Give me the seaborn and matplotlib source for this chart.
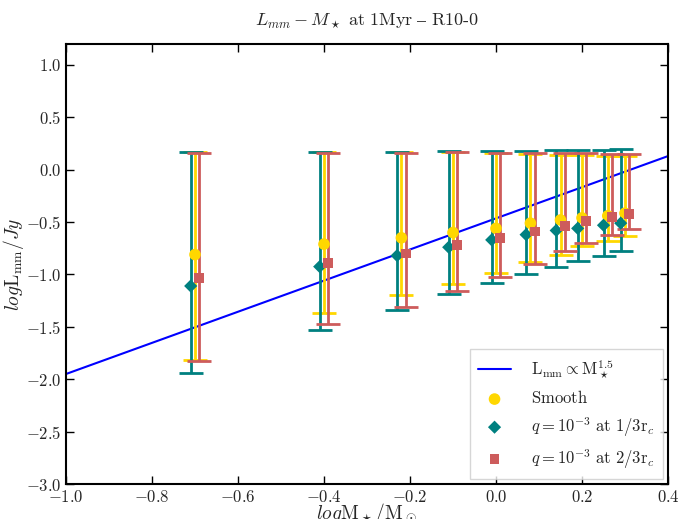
import numpy as np
import pandas as pd
import matplotlib
matplotlib.use("Agg")
import matplotlib.pyplot as plt
import seaborn as sns

# ---- data ----
log_mass = [-0.70, -0.40, -0.22, -0.10, 0.00, 0.08, 0.15, 0.20, 0.26, 0.30]
x_offset = 0.01

smooth_y    = [-0.81, -0.71, -0.65, -0.60, -0.56, -0.51, -0.48, -0.46, -0.44, -0.415]
smooth_top  = [0.165, 0.17, 0.17, 0.17, 0.16, 0.15, 0.14, 0.14, 0.13, 0.13]
smooth_bot  = [-1.82, -1.37, -1.20, -1.09, -0.99, -0.88, -0.81, -0.73, -0.68, -0.635]

q13_y   = [-1.11, -0.925, -0.82, -0.74, -0.67, -0.62, -0.58, -0.56, -0.53, -0.51]
q13_top = [0.17, 0.17, 0.17, 0.18, 0.18, 0.18, 0.19, 0.19, 0.19, 0.20]
q13_bot = [-1.94, -1.53, -1.34, -1.19, -1.08, -1.00, -0.93, -0.87, -0.82, -0.775]

q23_y   = [-1.03, -0.89, -0.80, -0.715, -0.65, -0.59, -0.54, -0.49, -0.45, -0.42]
q23_top = [0.156, 0.16, 0.16, 0.17, 0.16, 0.16, 0.16, 0.16, 0.15, 0.15]
q23_bot = [-1.83, -1.47, -1.31, -1.16, -1.02, -0.90, -0.78, -0.70, -0.625, -0.565]

line_x = [-1.0, 0.4]
line_y = [-1.95, 0.13]

xticks = [-1.0, -0.8, -0.6, -0.4, -0.2, 0.0, 0.2, 0.4]
yticks = [-3.0, -2.5, -2.0, -1.5, -1.0, -0.5, 0.0, 0.5, 1.0]

# ---- style ----
sns.set_style("ticks")
plt.rcParams.update({
    "font.family": ["cmr10", "DejaVu Serif"],
    "mathtext.fontset": "cm",
    "axes.formatter.use_mathtext": True,
    "axes.unicode_minus": True,
    "xtick.direction": "in",
    "ytick.direction": "in",
    "xtick.top": True,
    "ytick.right": True,
})

fig = plt.figure(figsize=(6.92, 5.19), dpi=100)
ax = fig.add_axes([66/692, 1-484/519, (668-66)/692, (484-44)/519])

c_smooth = "#FFD700"
c_q13 = "#008080"
c_q23 = "#CD5C5C"

lm = np.array(log_mass)

def draw(xs, ys, top, bot, color, marker, label, ms):
    ys = np.array(ys); top = np.array(top); bot = np.array(bot)
    ax.errorbar(xs, ys, yerr=[ys - bot, top - ys], fmt="none", ecolor=color,
                elinewidth=2, capsize=8.5, capthick=2, zorder=2)
    df = pd.DataFrame({"x": xs, "y": ys})
    sns.scatterplot(data=df, x="x", y="y", ax=ax, color=color, marker=marker,
                    s=ms, edgecolor="none", label=label, zorder=3)

sns.lineplot(x=line_x, y=line_y, ax=ax, color="blue", linewidth=1.5,
             label=r"$\mathrm{L_{mm}} \propto \mathrm{M}_\star^{1.5}$", zorder=1)
draw(lm, smooth_y, smooth_top, smooth_bot, c_smooth, "o", r"$\mathrm{Smooth}$", 70)
draw(lm - x_offset, q13_y, q13_top, q13_bot, c_q13, "D",
     r"$q=10^{-3}\ \mathrm{at}\ 1/3\mathrm{r}_c$", 45)
draw(lm + x_offset, q23_y, q23_top, q23_bot, c_q23, "s",
     r"$q=10^{-3}\ \mathrm{at}\ 2/3\mathrm{r}_c$", 50)

ax.set_xlim(-1.0, 0.4)
ax.set_ylim(-3.0, 1.2)
ax.set_xticks(xticks)
ax.set_yticks(yticks)
ax.tick_params(axis="both", which="major", length=6, width=1, labelsize=12, color="black")
for s in ax.spines.values():
    s.set_linewidth(1.5)
    s.set_color("black")

ax.set_xlabel(r"$log\mathrm{M}_\star/\mathrm{M}_\odot$", fontsize=14, labelpad=-3)
ax.set_ylabel(r"$log\mathrm{L_{mm}}/Jy$", fontsize=14, labelpad=0)
ax.set_title(r"$L_{mm} - M_\star\ \mathrm{at\ 1Myr}\ –\ \mathrm{R10}\text{-}\mathrm{0}$",
             fontsize=13, pad=14)

leg = ax.legend(loc="lower right", fontsize=12, frameon=True, fancybox=False,
                borderpad=0.5, labelspacing=0.5, handletextpad=1.2,
                borderaxespad=0.3)
leg.get_frame().set_edgecolor("#cccccc")
leg.get_frame().set_linewidth(1)

fig.savefig("out.png", dpi=100)
